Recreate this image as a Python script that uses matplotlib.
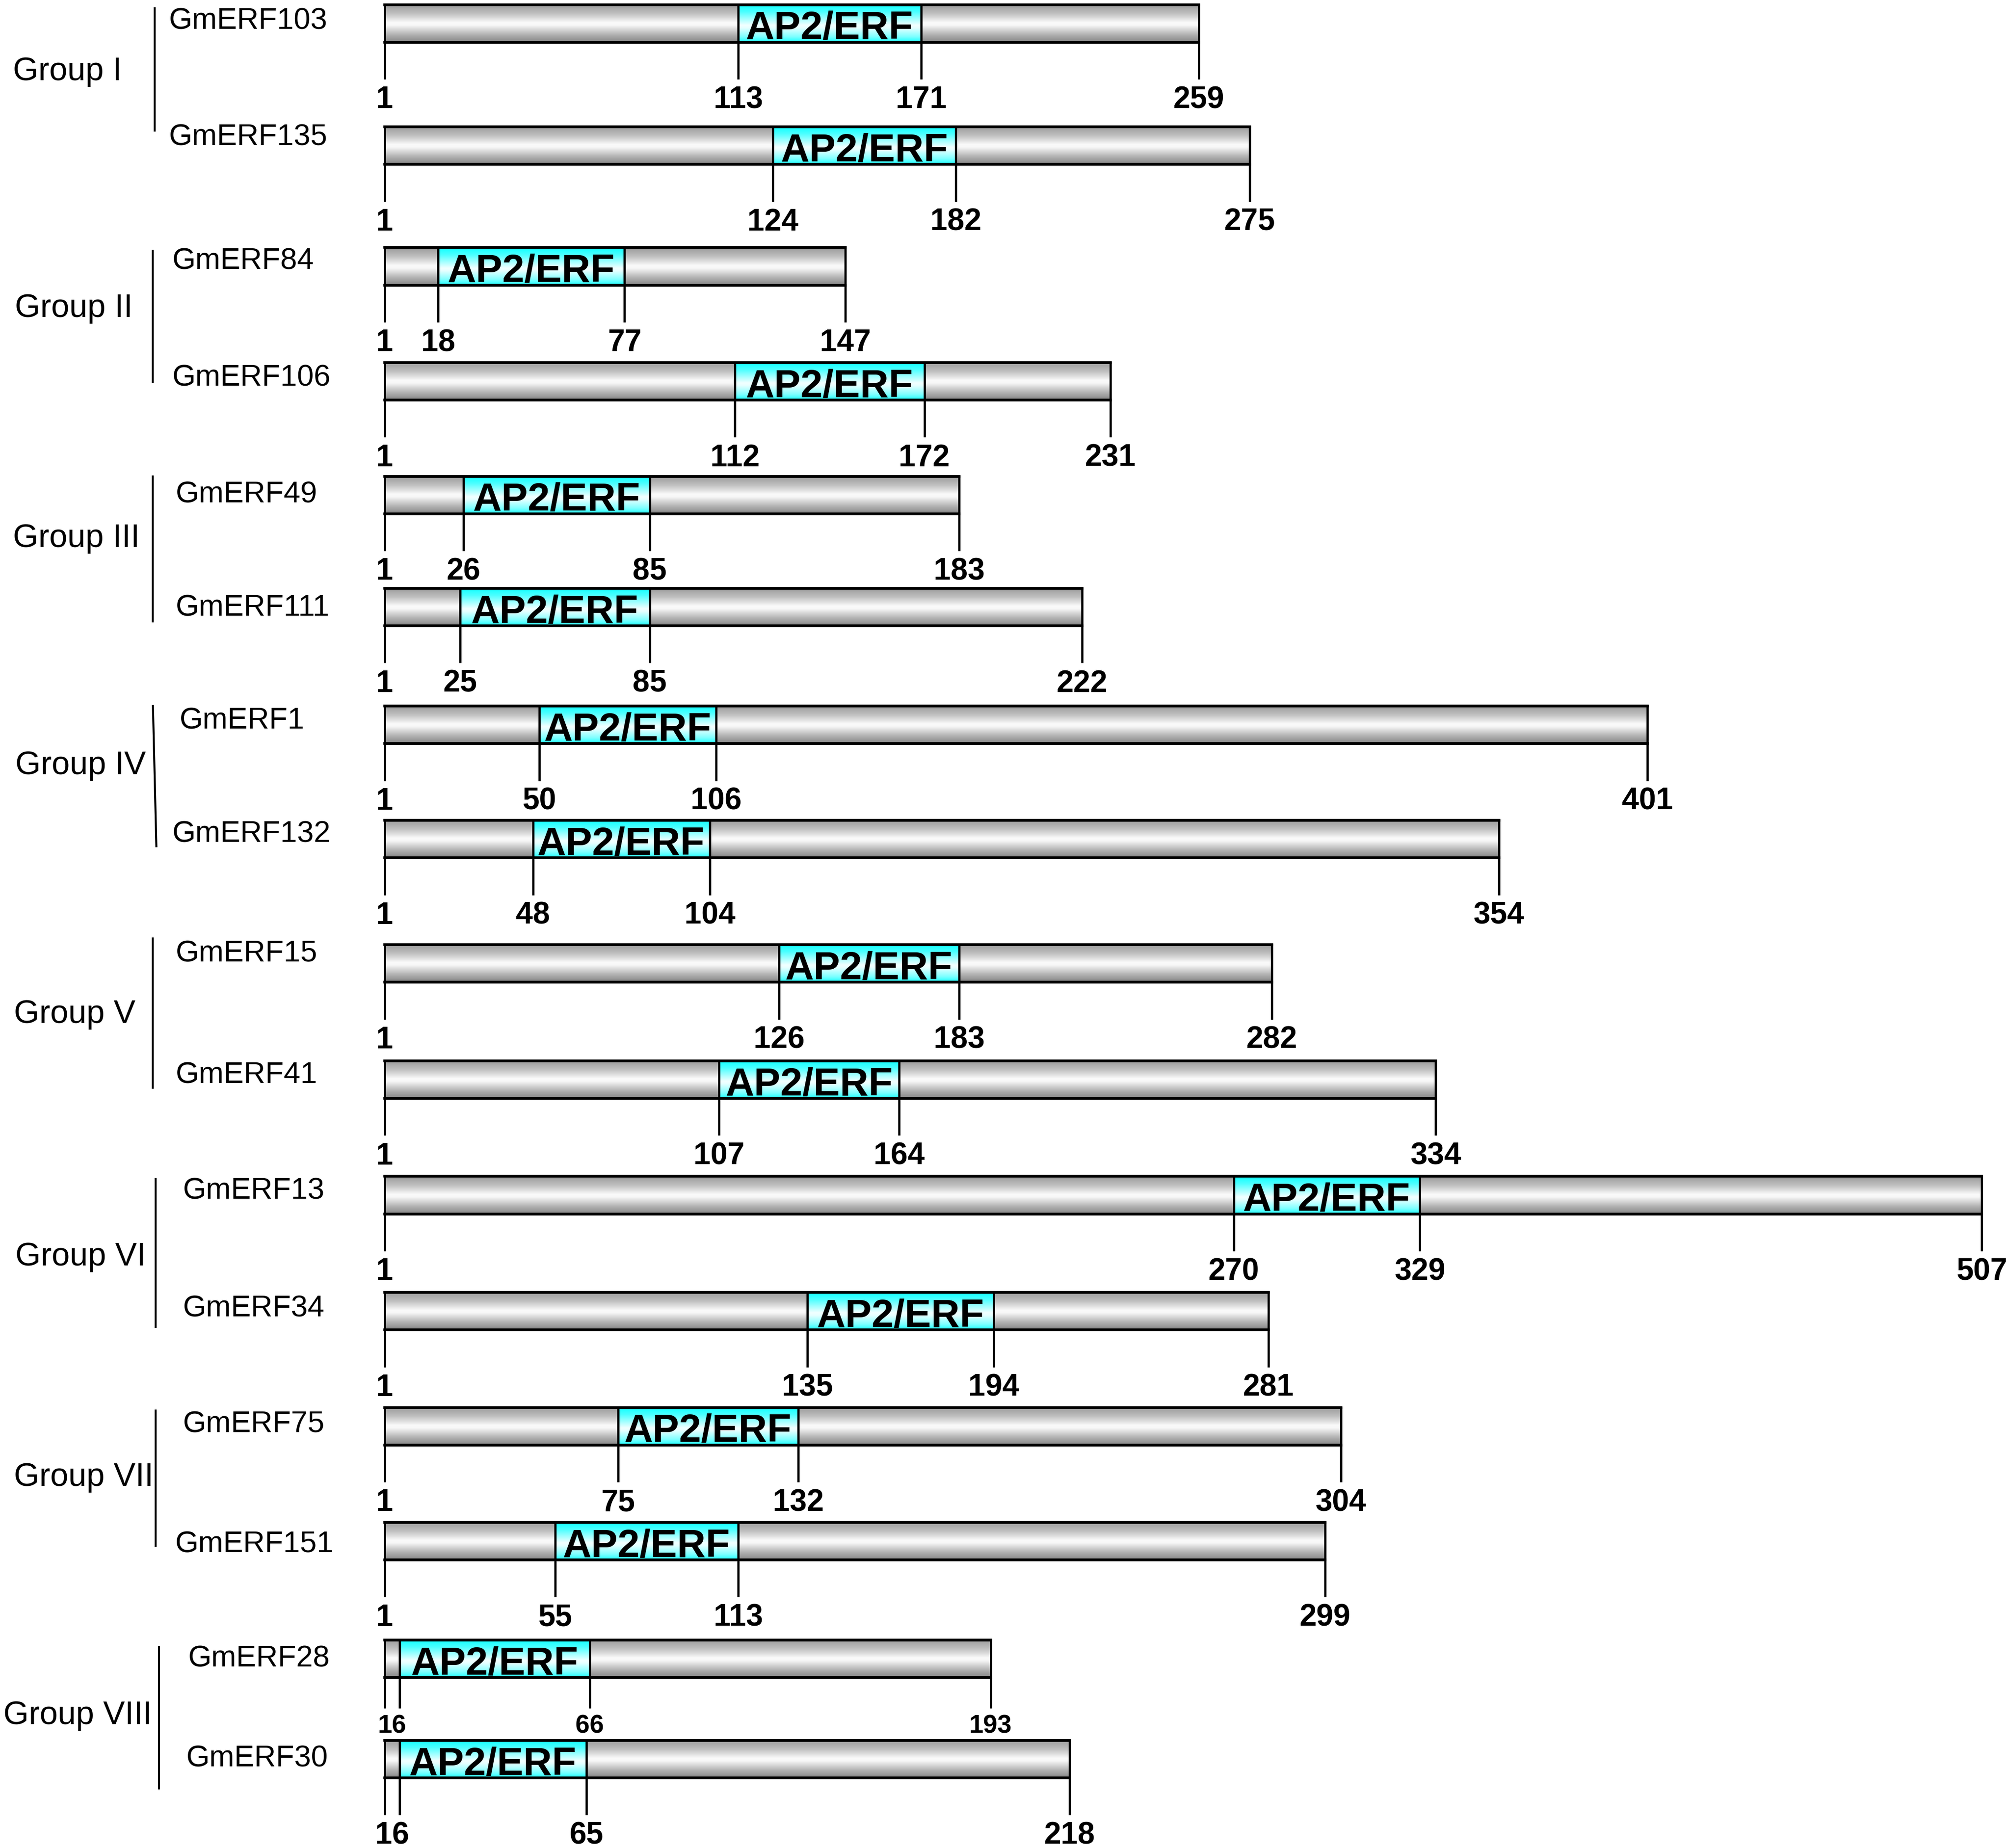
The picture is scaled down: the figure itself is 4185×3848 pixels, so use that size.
import numpy as np
import matplotlib
matplotlib.use("Agg")
import matplotlib.pyplot as plt
from matplotlib.patches import Rectangle

plt.rcParams['font.family'] = ['Liberation Sans', 'DejaVu Sans']

# ---------------- data ----------------
genes = ["GmERF103", "GmERF135", "GmERF84", "GmERF106", "GmERF49", "GmERF111",
         "GmERF1", "GmERF132", "GmERF15", "GmERF41", "GmERF13", "GmERF34",
         "GmERF75", "GmERF151", "GmERF28", "GmERF30"]
lengths = [259, 275, 147, 231, 183, 222, 401, 354, 282, 334, 507, 281, 304, 299, 193, 218]
domain_start = [113, 124, 18, 112, 26, 25, 50, 48, 126, 107, 270, 135, 75, 55, 16, 16]
domain_end = [171, 182, 77, 172, 85, 85, 106, 104, 183, 164, 329, 194, 132, 113, 66, 65]
# in the source figure the GmERF28/GmERF30 domains are drawn starting near residue 6
domain_start_drawn = [113, 124, 18, 112, 26, 25, 50, 48, 126, 107, 270, 135, 75, 55, 5.7, 5.7]
domain_name = "AP2/ERF"
groups = ["Group I", "Group II", "Group III", "Group IV",
          "Group V", "Group VI", "Group VII", "Group VIII"]

# ---------------- layout (reference pixels / 2.669) ----------------
S = 4185 / 1568.0
FIG_H = 3848 / S
X0, PX_PER_AA = 300.0, 2.4625
bar_top = [3.6, 98.9, 193.1, 282.8, 371.5, 458.9, 550.8, 640.0, 737.0, 827.6,
           917.7, 1008.3, 1098.0, 1187.6, 1279.5, 1357.7]
BAR_H = 29.3
name_x = [132, 132, 134.5, 134.5, 137, 137, 140, 134.5, 137, 137,
          142.6, 142.6, 142.6, 136.6, 146.7, 145.4]
name_y = [14.4, 104.9, 201.5, 292.6, 383.7, 472, 560, 648.7, 742, 836.8,
          927, 1018.6, 1109, 1202.6, 1292, 1370]
group_x = [10, 11.6, 10, 12, 11, 12, 11, 2.8]
group_y = [53.6, 238, 417.6, 595, 789, 978, 1150, 1336]
group_line = [(120.8, 5.6, 120.8, 102.5), (119.3, 194.8, 119.3, 299),
              (119.3, 371, 119.3, 485.6), (119.3, 550, 122, 661),
              (119.3, 731.5, 119.3, 849.4), (121.5, 919, 121.5, 1035.8),
              (121.5, 1099.6, 121.5, 1206.8), (124, 1284, 124, 1396)]


def aa(xd):
    return 1 + (xd - X0) / PX_PER_AA


def em(pt):
    return pt * 300 / 72.0 / S


def cap_text(ax, x, yc, s, pt, **kw):
    # place text so that its cap height is centred on yc
    ax.text(x, yc + 0.358 * em(pt), s, fontsize=pt, va='baseline', **kw)


fig = plt.figure(figsize=(4185 / 300, 3848 / 300), dpi=300)
ax = fig.add_axes([0, 0, 1, 1])
ax.set_xlim(aa(0), aa(1568))
ax.set_ylim(FIG_H, 0)
ax.axis('off')

# gradients
t = np.linspace(0, 1, 256)
g = np.interp(t, [0, 0.25, 0.48, 0.55, 0.78, 1], [0.6, 0.76, 0.98, 0.97, 0.72, 0.52])
gray_img = np.stack([g, g, g], axis=1)[:, None, :]
r = np.interp(t, [0, 0.2, 0.55, 0.62, 0.85, 1], [0.05, 0.3, 0.95, 0.9, 0.5, 0.1])
cyan_img = np.stack([r, np.ones_like(r), np.ones_like(r)], axis=1)[:, None, :]

LW = 1.1
for i, gene in enumerate(genes):
    top = bar_top[i]
    bot = top + BAR_H
    L = lengths[i]
    ds = domain_start_drawn[i]
    de = domain_end[i]
    ax.imshow(gray_img, extent=(1, L, bot, top), aspect='auto',
              interpolation='bilinear', zorder=1)
    ax.imshow(cyan_img, extent=(ds, de, bot, top), aspect='auto',
              interpolation='bilinear', zorder=2)
    ax.add_patch(Rectangle((1, top), L - 1, BAR_H, fill=False, ec='black',
                           lw=LW, zorder=3))
    ax.plot([1, L], [top, top], color='black', lw=1.35, zorder=3)
    ax.plot([1, L], [bot, bot], color='black', lw=1.35, zorder=3)
    small = gene == "GmERF28"
    tick_end = bot + (24 if small else 29)
    for xp in (1, L):
        ax.plot([xp, xp], [bot, tick_end], color='black', lw=LW, zorder=3,
                solid_capstyle='butt')
    for xp in (ds, de):
        ax.plot([xp, xp], [top, tick_end], color='black', lw=LW, zorder=3,
                solid_capstyle='butt')
    cap_text(ax, (ds + de) / 2, top + BAR_H / 2 + 1.2, domain_name, 19.8,
             ha='center', fontweight='bold', zorder=5)
    # position labels
    lab_pt = 12.8 if small else 15.3
    lab_y = bot + (36 if small else 43)
    if domain_start_drawn[i] != domain_start[i]:
        labels = [((1 + ds) / 2, domain_start[i])]
    else:
        labels = [(1, 1), (ds, domain_start[i])]
    labels += [(de, de), (L, L)]
    for xp, v in labels:
        cap_text(ax, xp, lab_y, str(v), lab_pt, ha='center', fontweight='bold')
    cap_text(ax, aa(name_x[i]), name_y[i], gene, 15.0, ha='left')

for k, grp in enumerate(groups):
    cap_text(ax, aa(group_x[k]), group_y[k], grp, 16.3, ha='left')
    x1, y1, x2, y2 = group_line[k]
    ax.plot([aa(x1), aa(x2)], [y1, y2], color='black', lw=1.0,
            solid_capstyle='butt')

fig.savefig("out.png", dpi=300)
